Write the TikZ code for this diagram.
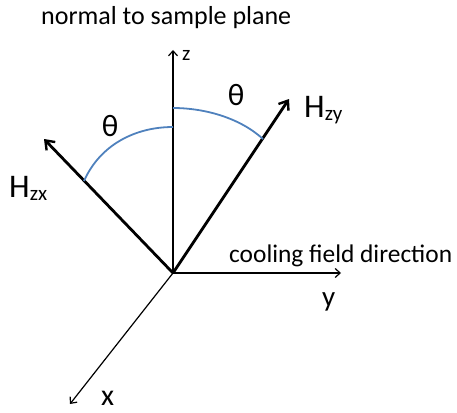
\documentclass[tikz,border=0pt]{standalone}
\usepackage{fontspec}
\setmainfont{Carlito}
\usetikzlibrary{arrows.meta}
\definecolor{arcblue}{RGB}{79,129,189}
\tikzset{
  thickvec/.style={line width=2.8pt, -{Straight Barb[length=8pt,width=12pt,line width=2.4pt]}},
  thinax/.style={line width=1.2pt, -{Straight Barb[length=5pt,width=9pt,line width=1.2pt]}},
  anglearc/.style={arcblue, line width=1.8pt},
  lab/.style={anchor=base west, inner sep=0pt, font=\fontsize{#1}{#1}\selectfont},
}
\begin{document}
\begin{tikzpicture}[x=1pt,y=-1pt]
\useasboundingbox (0,0) rectangle (457,412);
\coordinate (O) at (173,273);
\coordinate (ztip) at (173,50);
\coordinate (ztop) at (173,82);
\coordinate (ytip) at (341,273);
\coordinate (xtip) at (70,404);
\coordinate (hzy) at (289,99);
\coordinate (hzx) at (44,139);
\coordinate (a1s) at (173,108);
\coordinate (a1e) at (263,139);
\coordinate (a2s) at (173,127);
\coordinate (a2e) at (84,181);
% axes
\draw[thinax] (O) -- (ztip);
\draw[line width=2.8pt] (O) -- (ztop);
\draw[thinax] (O) -- (ytip);
\draw[thinax] (O) -- (xtip);
% field vectors
\draw[thickvec] (O) -- (hzy);
\draw[thickvec] (O) -- (hzx);
% angle arcs
\draw[anglearc] (a1s) .. controls (205,108) and (240,118) .. (a1e);
\draw[anglearc] (a2s) .. controls (135,127) and (100,145) .. (a2e);
% labels
\node[lab=26] (tnorm) at (41,25) {normal to sample plane};
\node[lab=25.4] (tcool) at (229,262) {cooling field direction};
\node[lab=21] (tz) at (182,60) {z};
\node[lab=29] (ty) at (322,306) {y};
\node[lab=30] (tx) at (101,405) {x};
\node[lab=33] (thzy) at (304,117) {H\textsubscript{\fontsize{21}{21}\selectfont zy}};
\node[lab=33] (thzx) at (9,197) {H\textsubscript{\fontsize{21}{21}\selectfont zx}};
\node[font=\fontsize{31}{31}\selectfont, inner sep=0pt] (th1) at (236,95) {θ};
\node[font=\fontsize{31}{31}\selectfont, inner sep=0pt] (th2) at (110,126) {θ};
\end{tikzpicture}
\end{document}
